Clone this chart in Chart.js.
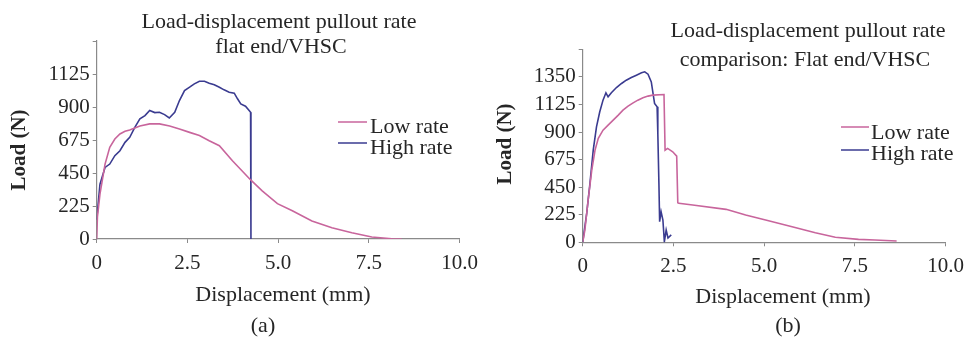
<!DOCTYPE html>
<html>
<head>
<meta charset="utf-8">
<script src="https://cdn.jsdelivr.net/npm/chart.js@4"></script>
<style>
body { margin: 0; background: #fff; width: 972px; height: 337px; overflow: hidden; }
.wrap { position: absolute; top: 0; width: 486px; height: 337px; }
</style>
</head>
<body>
<div class="wrap" style="left:0"><canvas id="grafA" width="486" height="337"></canvas></div>
<div class="wrap" style="left:486px"><canvas id="grafB" width="486" height="337"></canvas></div>
<script>
// series names + texts
const seriesNames = ["Low rate", "High rate"];
const titleA = ["Load-displacement pullout rate", "flat end/VHSC"];
const titleB = ["Load-displacement pullout rate", "comparison: Flat end/VHSC"];
const xTitle = "Displacement (mm)";
const yTitle = "Load (N)";
const xTicks = ["0", "2.5", "5.0", "7.5", "10.0"];
const yTicksA = [0, 225, 450, 675, 900, 1125];
const yTicksB = [0, 225, 450, 675, 900, 1125, 1350];

// (a) flat end/VHSC
const aLowX = [0, 0.02, 0.09, 0.23, 0.36, 0.5, 0.64, 0.78, 0.91, 1.05, 1.19, 1.46, 1.73, 2.01, 2.28, 2.56, 2.83, 3.1, 3.38, 3.74, 4.25, 4.56, 4.98, 5.39, 5.93, 6.48, 7.03, 7.58, 8.13, 8.4];
const aLowY = [0, 150, 306, 511, 625, 682, 716, 734, 743, 757, 771, 785, 785, 771, 750, 727, 705, 670, 636, 534, 401, 328, 241, 192, 123, 77, 43, 14, 2, 0];
const aHighX = [0, 0.09, 0.23, 0.36, 0.5, 0.64, 0.78, 0.91, 1.05, 1.19, 1.33, 1.46, 1.6, 1.73, 1.87, 2.0, 2.15, 2.28, 2.42, 2.56, 2.69, 2.83, 2.97, 3.1, 3.24, 3.38, 3.51, 3.65, 3.79, 3.88, 3.97, 4.1, 4.2, 4.24, 4.25];
const aHighY = [130, 374, 488, 511, 568, 602, 659, 693, 761, 819, 841, 876, 862, 864, 848, 825, 864, 944, 1012, 1035, 1058, 1076, 1076, 1062, 1051, 1035, 1017, 1001, 994, 956, 921, 905, 876, 864, 0];

// (b) comparison
const bLowX = [0, 0.06, 0.15, 0.25, 0.34, 0.43, 0.56, 0.7, 0.84, 0.98, 1.11, 1.25, 1.39, 1.52, 1.66, 1.8, 1.93, 2.24, 2.27, 2.34, 2.48, 2.59, 2.62, 2.65, 3.03, 3.95, 4.49, 5.04, 5.77, 6.41, 6.96, 7.6, 8.05, 8.65];
const bLowY = [0, 100, 345, 589, 752, 848, 915, 956, 997, 1038, 1078, 1111, 1138, 1160, 1179, 1193, 1201, 1206, 752, 766, 739, 703, 323, 318, 304, 269, 223, 182, 127, 78, 41, 24, 19, 11];
const bHighX = [0, 0.11, 0.2, 0.29, 0.38, 0.47, 0.56, 0.64, 0.7, 0.79, 0.93, 1.07, 1.2, 1.34, 1.48, 1.62, 1.71, 1.8, 1.89, 1.98, 2.05, 2.07, 2.1, 2.12, 2.16, 2.21, 2.25, 2.3, 2.35, 2.44];
const bHighY = [0, 236, 481, 752, 942, 1065, 1160, 1220, 1187, 1220, 1263, 1296, 1323, 1345, 1364, 1383, 1391, 1372, 1309, 1133, 1106, 888, 481, 168, 250, 182, 5, 100, 35, 60];

const lowColor = "#c8659c";
const highColor = "#3a3b90";
const textColor = "#262626";
const serif = "'Liberation Serif', 'Times New Roman', serif";

function toPoints(xs, ys) {
    return xs.map((x, i) => ({ x: x, y: ys[i] }));
}

// titles, legend, captions drawn on the canvas
const textPlugin = {
    id: "teksty",
    afterDraw(chart, args, o) {
        const ctx = chart.ctx;
        ctx.save();
        ctx.font = "22px " + serif;
        ctx.fillStyle = textColor;
        ctx.textAlign = "center";
        ctx.textBaseline = "middle";
        o.title.forEach((t, i) => ctx.fillText(t, o.titleX[i], o.titleY[i]));
        ctx.fillText(xTitle, o.xTitle[0], o.xTitle[1]);
        ctx.fillText(o.caption, o.cap[0], o.cap[1]);
        ctx.save();
        ctx.font = "bold 21px " + serif;
        ctx.translate(o.yTitle[0], o.yTitle[1]);
        ctx.rotate(-Math.PI / 2);
        ctx.fillText(yTitle, 0, 0);
        ctx.restore();
        ctx.textAlign = "left";
        chart.data.datasets.forEach((ds, i) => {
            const L = o.legend[i];
            ctx.strokeStyle = ds.borderColor;
            ctx.lineWidth = 1.5;
            ctx.beginPath();
            ctx.moveTo(L[0], L[2]);
            ctx.lineTo(L[1], L[2]);
            ctx.stroke();
            ctx.fillText(ds.label, L[3], L[4]);
        });
        ctx.restore();
    }
};

function makeConfig(lowPts, highPts, yTicks, yMax, pad, texts) {
    return {
        type: "line",
        data: {
            datasets: [
                { label: seriesNames[0], data: lowPts, borderColor: lowColor, borderWidth: 1.6, pointRadius: 0, tension: 0, fill: false },
                { label: seriesNames[1], data: highPts, borderColor: highColor, borderWidth: 1.6, pointRadius: 0, tension: 0, fill: false }
            ]
        },
        options: {
            responsive: false,
            animation: false,
            layout: { padding: pad },
            plugins: { legend: { display: false }, title: { display: false }, tooltip: { enabled: false }, teksty: texts },
            scales: {
                x: {
                    type: "linear", min: 0, max: 10,
                    afterBuildTicks: (s) => { s.ticks = xTicks.map(v => ({ value: parseFloat(v) })); },
                    afterFit: (s) => { s.height = 40; },
                    ticks: { color: textColor, font: { family: serif, size: 21 }, padding: 8, maxRotation: 0, autoSkip: false,
                        callback: (v, i) => xTicks[i] },
                    grid: { drawOnChartArea: false, drawTicks: true, tickLength: 4, color: "#8a8a8a" },
                    border: { color: "#8a8a8a", width: 1.2 }
                },
                y: {
                    min: 0, max: yMax,
                    afterBuildTicks: (s) => { s.ticks = yTicks.concat([yMax]).map(v => ({ value: v })); },
                    afterFit: (s) => { s.width = 96.7; },
                    ticks: { color: textColor, font: { family: serif, size: 21 }, padding: 3, autoSkip: false,
                        callback: (v) => yTicks.includes(v) ? String(v) : "" },
                    grid: { drawOnChartArea: false, drawTicks: true, tickLength: 4, color: "#8a8a8a" },
                    border: { color: "#8a8a8a", width: 1.2 }
                }
            }
        },
        plugins: [textPlugin]
    };
}

new Chart(document.getElementById("grafA"), makeConfig(
    toPoints(aLowX, aLowY), toPoints(aHighX, aHighY), yTicksA, 1350,
    { left: 0, right: 24.3, top: 41, bottom: 58 },
    {
        title: titleA, titleX: [279, 281], titleY: [22, 47],
        xTitle: [283, 295], yTitle: [20, 150], caption: "(a)", cap: [263, 326],
        legend: [[338, 367, 122, 370, 127], [338, 367, 143, 370, 148]]
    }));

new Chart(document.getElementById("grafB"), makeConfig(
    toPoints(bLowX, bLowY), toPoints(bHighX, bHighY), yTicksB, 1575,
    { left: 0, right: 24.3, top: 49.3, bottom: 54.7 },
    {
        title: titleB, titleX: [322, 319], titleY: [31, 60],
        xTitle: [297, 297], yTitle: [20, 144], caption: "(b)", cap: [302, 326],
        legend: [[355, 383, 127, 385, 133], [355, 383, 150, 385, 154]]
    }));
</script>
</body>
</html>
